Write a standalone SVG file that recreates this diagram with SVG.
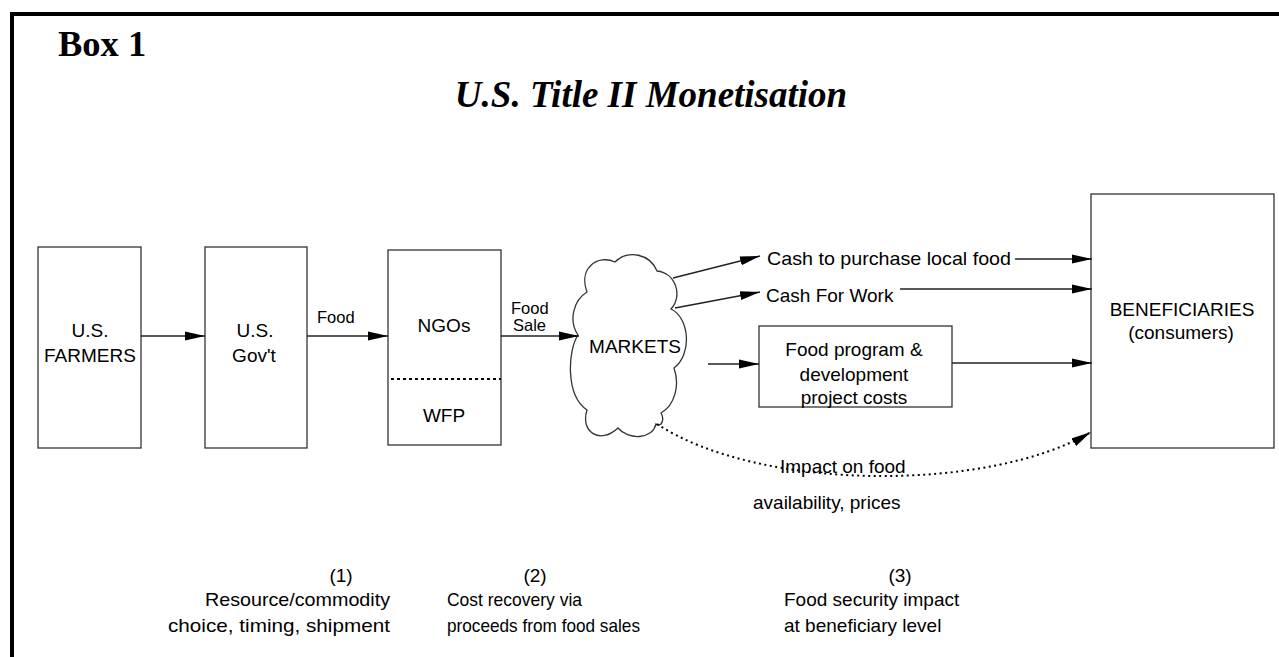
<svg xmlns="http://www.w3.org/2000/svg" width="1279" height="657" viewBox="0 0 1279 657">
<style>
.box{fill:#fff;stroke:#333;stroke-width:1.3}
.lbl{font-family:"Liberation Sans",Arial,sans-serif;font-size:19px;fill:#000}
.sm{font-family:"Liberation Sans",Arial,sans-serif;font-size:16.5px;fill:#000}
.ln{fill:none;stroke:#222;stroke-width:1.3}
.dot{fill:none;stroke:#000;stroke-width:2;stroke-dasharray:2,3.5}
.ttl{font-family:"Liberation Serif","Times New Roman",serif;font-weight:bold;fill:#000}
</style>
<defs>
<marker id="ah" markerUnits="userSpaceOnUse" markerWidth="20" markerHeight="10" refX="20" refY="5" orient="auto">
<path d="M0,0.5 L20,5 L0,9.5 z" fill="#000"/>
</marker>
</defs>
<rect width="1279" height="657" fill="#fff"/>
<path d="M12,657 V14 H1279" fill="none" stroke="#000" stroke-width="4"/>
<text class="ttl" x="58" y="56" font-size="36.5">Box 1</text>
<text class="ttl" x="651" y="107" font-size="37" font-style="italic" text-anchor="middle">U.S. Title II Monetisation</text>

<g id="farmers">
<rect class="box" x="38" y="247" width="103" height="201"/>
<text class="lbl" x="90" y="337" text-anchor="middle">U.S.</text>
<text class="lbl" x="90" y="362" text-anchor="middle">FARMERS</text>
</g>
<g id="govt">
<rect class="box" x="205" y="247" width="102" height="201"/>
<text class="lbl" x="255" y="337" text-anchor="middle">U.S.</text>
<text class="lbl" x="254" y="362" text-anchor="middle">Gov't</text>
</g>
<g id="ngos">
<rect class="box" x="388" y="250" width="113" height="195"/>
<line x1="391" y1="379" x2="501" y2="379" stroke="#000" stroke-width="2" stroke-dasharray="3,3"/>
<text class="lbl" x="444" y="332" text-anchor="middle">NGOs</text>
<text class="lbl" x="444" y="422" text-anchor="middle">WFP</text>
</g>
<g id="markets">
<path class="box" d="M587,292 C578,268 598,254 615,262 C628,249 650,254 657,271 C676,273 683,296 671,309 C690,318 692,355 674,368 C680,385 675,405 661,413 C665,420 661,428 656,424 C652,440 628,440 618,428 C600,445 580,432 587,410 C565,395 568,350 578,335 C568,320 574,300 587,292 Z"/>
<text class="lbl" x="635" y="353" text-anchor="middle">MARKETS</text>
</g>
<g id="foodprogram">
<rect class="box" x="759" y="326" width="193" height="81"/>
<text class="lbl" x="854" y="356" text-anchor="middle">Food program &amp;</text>
<text class="lbl" x="854" y="381" text-anchor="middle">development</text>
<text class="lbl" x="854" y="404" text-anchor="middle">project costs</text>
</g>
<g id="beneficiaries">
<rect class="box" x="1091" y="194" width="183" height="254"/>
<text class="lbl" x="1182" y="316" text-anchor="middle">BENEFICIARIES</text>
<text class="lbl" x="1181" y="339" text-anchor="middle">(consumers)</text>
</g>

<g id="connectors">
<line class="ln" x1="141" y1="336" x2="205" y2="336" marker-end="url(#ah)"/>
<line class="ln" x1="307" y1="336" x2="388" y2="336" marker-end="url(#ah)"/>
<line class="ln" x1="501" y1="336" x2="579" y2="336" marker-end="url(#ah)"/>
<line class="ln" x1="673" y1="278" x2="760" y2="256" marker-end="url(#ah)"/>
<line class="ln" x1="675" y1="308" x2="760" y2="292" marker-end="url(#ah)"/>
<line class="ln" x1="1015" y1="259" x2="1092" y2="259" marker-end="url(#ah)"/>
<line class="ln" x1="900" y1="289" x2="1092" y2="289" marker-end="url(#ah)"/>
<line class="ln" x1="708" y1="364" x2="759" y2="364" marker-end="url(#ah)"/>
<line class="ln" x1="952" y1="363" x2="1092" y2="363" marker-end="url(#ah)"/>
<path class="dot" d="M657,424 C760,492 990,492 1091,432" marker-end="url(#ah)"/>
</g>

<g id="labels">
<text class="sm" x="317" y="323">Food</text>
<text class="sm" x="511" y="314">Food</text>
<text class="sm" x="513" y="331">Sale</text>
<text class="lbl" x="767" y="265" textLength="244" lengthAdjust="spacingAndGlyphs">Cash to purchase local food</text>
<text class="lbl" x="766" y="302">Cash For Work</text>
<text class="lbl" x="780" y="473">Impact on food</text>
<text class="lbl" x="753" y="509">availability, prices</text>
<text class="lbl" x="341" y="582" text-anchor="middle">(1)</text>
<text class="lbl" x="205" y="606" textLength="185" lengthAdjust="spacingAndGlyphs">Resource/commodity</text>
<text class="lbl" x="168" y="632" textLength="222" lengthAdjust="spacingAndGlyphs">choice, timing, shipment</text>
<text class="lbl" x="535" y="582" text-anchor="middle">(2)</text>
<text class="lbl" x="447" y="606" textLength="135" lengthAdjust="spacingAndGlyphs">Cost recovery via</text>
<text class="lbl" x="447" y="632" textLength="193" lengthAdjust="spacingAndGlyphs">proceeds from food sales</text>
<text class="lbl" x="900" y="582" text-anchor="middle">(3)</text>
<text class="lbl" x="784" y="606">Food security impact</text>
<text class="lbl" x="784" y="632">at beneficiary level</text>
</g>
</svg>
